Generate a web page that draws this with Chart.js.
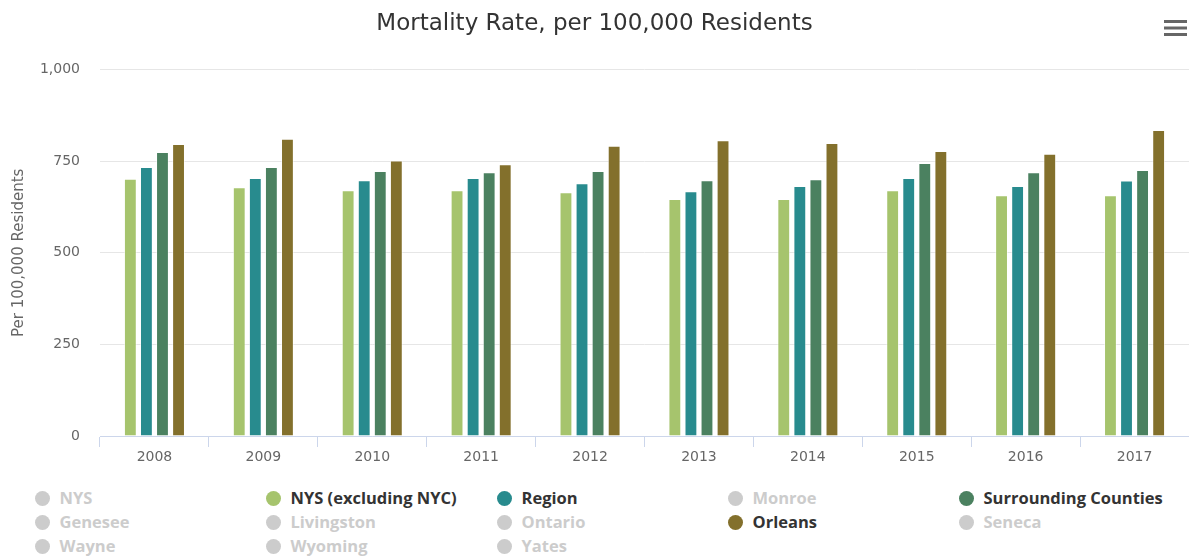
<!DOCTYPE html>
<html>
<head>
<meta charset="utf-8">
<script src="https://cdn.jsdelivr.net/npm/chart.js@4.4.1/dist/chart.umd.min.js"></script>
<style>
  html, body { margin: 0; padding: 0; background: #ffffff; }
  #wrap { position: relative; width: 1189px; height: 557px; overflow: hidden; }
  #box { position: absolute; left: 0; top: 0; width: 1189px; height: 475px; }
  .li { position: absolute; height: 20px; line-height: 20px; white-space: nowrap;
        font-family: "Open Sans", sans-serif; font-weight: 700; font-size: 16.5px; }
  .li .dot { position: absolute; left: 0; top: 2px; width: 15px; height: 15px; border-radius: 50%; }
  .li .tx { position: absolute; left: 25px; top: -1px; }
</style>
</head>
<body>
<div id="wrap">
  <div id="box"><canvas id="c"></canvas></div>
  <div id="legend"></div>
</div>
<script>
// ---- data ----
const categories = ['2008','2009','2010','2011','2012','2013','2014','2015','2016','2017'];
const nysExclNYC   = [702, 679, 671, 671, 665, 647, 647, 671, 657, 657];
const region       = [734, 704, 698, 704, 690, 668, 682, 704, 682, 697];
const surrounding  = [775, 734, 723, 720, 723, 698, 701, 745, 720, 726];
const orleans      = [797, 811, 752, 742, 792, 807, 800, 778, 770, 835];
const yTicks = [0, 250, 500, 750, 1000];

const legendNames = ['NYS','NYS (excluding NYC)','Region','Monroe','Surrounding Counties',
                     'Genesee','Livingston','Ontario','Orleans','Seneca',
                     'Wayne','Wyoming','Yates'];
const legendVisible = [false,true,true,false,true, false,false,false,true,false, false,false,false];
const legendColors = ['#cccccc','#a6c46d','#288b8e','#cccccc','#4b8160',
                      '#cccccc','#cccccc','#cccccc','#83702c','#cccccc',
                      '#cccccc','#cccccc','#cccccc'];

// ---- chart ----
const PLOT_LEFT = 100, PLOT_BOTTOM = 436, CANVAS_H = 475;

const menuIcon = {
  id: 'menuIcon',
  afterDraw(chart) {
    const ctx = chart.ctx;
    ctx.save();
    ctx.strokeStyle = '#666666';
    ctx.lineWidth = 3;
    [21.5, 28, 34.5].forEach(y => {
      ctx.beginPath(); ctx.moveTo(1164, y); ctx.lineTo(1187, y); ctx.stroke();
    });
    ctx.restore();
  }
};

function ds(label, data, color) {
  return { label, data, backgroundColor: color, borderColor: 'rgba(255,255,255,0.55)',
           borderWidth: 1, barPercentage: 0.8, categoryPercentage: 0.59 };
}

new Chart(document.getElementById('c'), {
  type: 'bar',
  data: {
    labels: categories,
    datasets: [
      ds('NYS (excluding NYC)', nysExclNYC, '#a6c46d'),
      ds('Region', region, '#288b8e'),
      ds('Surrounding Counties', surrounding, '#4b8160'),
      ds('Orleans', orleans, '#83702c')
    ]
  },
  options: {
    responsive: true,
    maintainAspectRatio: false,
    animation: false,
    layout: { padding: 0 },
    plugins: {
      legend: { display: false },
      tooltip: { enabled: false },
      title: {
        display: true,
        text: 'Mortality Rate, per 100,000 Residents',
        color: '#333333',
        font: { family: 'DejaVu Sans', size: 23, weight: 'normal' },
        padding: { top: 10, bottom: 32 }
      }
    },
    scales: {
      x: {
        offset: true,
        grid: { display: true, drawOnChartArea: false, drawTicks: true, tickLength: 11, color: '#ccd6eb', offset: true },
        border: { display: true, color: '#ccd6eb', width: 1 },
        ticks: { color: '#666666', font: { family: 'DejaVu Sans', size: 14 }, padding: 2, maxRotation: 0 },
        afterFit(s) { s.height = CANVAS_H - PLOT_BOTTOM; }
      },
      y: {
        min: 0, max: 1000,
        afterBuildTicks(s) { s.ticks = yTicks.map(v => ({ value: v })); },
        grid: { color: '#e6e6e6', drawTicks: false },
        border: { display: false },
        ticks: {
          color: '#666666', font: { family: 'DejaVu Sans', size: 14 }, padding: 20,
          callback: v => v.toLocaleString('en-US')
        },
        title: {
          display: true, text: 'Per 100,000 Residents', color: '#666666',
          font: { family: 'DejaVu Sans', size: 15 }, padding: { top: 10, bottom: 0 }
        },
        afterFit(s) { s.width = PLOT_LEFT; }
      }
    }
  },
  plugins: [menuIcon]
});

// ---- legend ----
const lg = document.getElementById('legend');
legendNames.forEach((name, i) => {
  const col = i % 5, row = Math.floor(i / 5);
  const el = document.createElement('div');
  el.className = 'li';
  el.style.left = (34.5 + col * 231) + 'px';
  el.style.top = (489 + row * 24) + 'px';
  const dot = document.createElement('span');
  dot.className = 'dot';
  dot.style.background = legendColors[i];
  const tx = document.createElement('span');
  tx.className = 'tx';
  tx.textContent = name;
  tx.style.color = legendVisible[i] ? '#333333' : '#cccccc';
  el.appendChild(dot); el.appendChild(tx);
  lg.appendChild(el);
});
</script>
</body>
</html>
